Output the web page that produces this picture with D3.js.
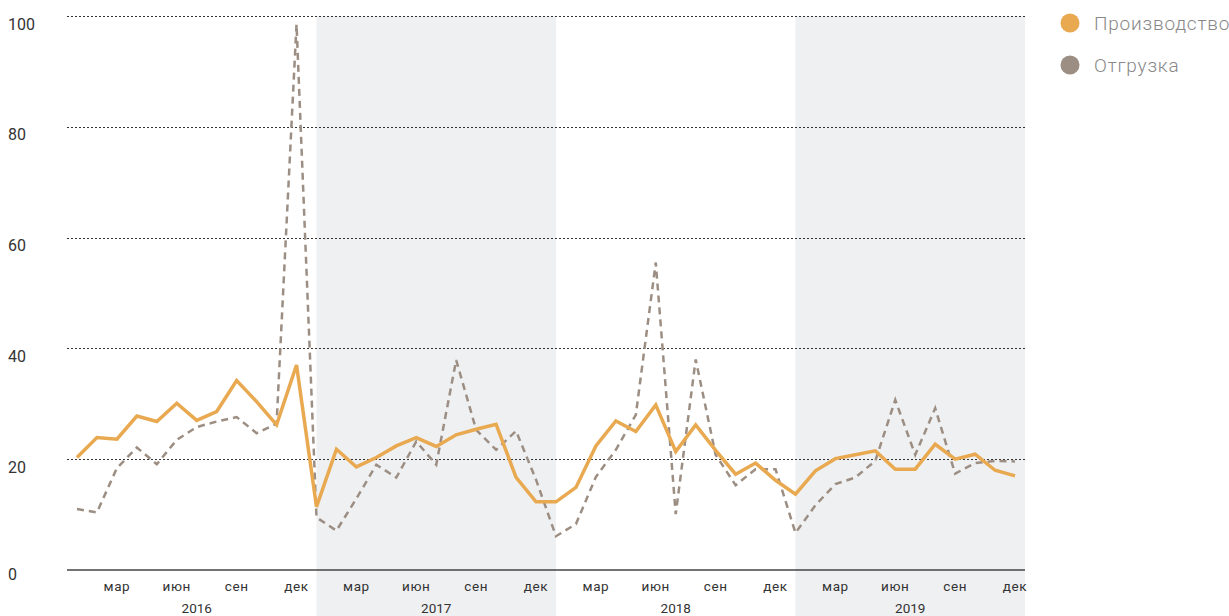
<!DOCTYPE html>
<html>
<head>
<meta charset="utf-8">
<script src="https://cdn.jsdelivr.net/npm/d3@7"></script>
<style>
  body { margin: 0; background: #fff; }
  svg { display: block; font-family: Roboto, "Open Sans", sans-serif; }
</style>
</head>
<body>
<div id="chart"></div>
<script>
// monthly series, Jan 2016 .. Dec 2019
var years = [2016, 2017, 2018, 2019];
var monthTicks = ['мар', 'июн', 'сен', 'дек'];  // shown at month index 2, 5, 8, 11
var yTicks = [0, 20, 40, 60, 80, 100];
var seriesNames = ['Производство', 'Отгрузка'];

var production = [
	20.3, 23.9, 23.6, 27.8, 26.8, 30.1, 27.0, 28.6, 34.2, 30.4, 26.2, 37.0,
	11.4, 21.8, 18.6, 20.3, 22.4, 23.9, 22.3, 24.4, 25.4, 26.3, 16.7, 12.3,
	12.3, 14.9, 22.4, 26.9, 25.0, 29.8, 21.4, 26.2, 21.6, 17.3, 19.3, 16.2,
	13.7, 17.9, 20.1, 20.8, 21.5, 18.2, 18.2, 22.7, 20.0, 20.9, 18.0, 17.0
];
var shipment = [
	11.0, 10.4, 18.4, 22.1, 19.1, 23.5, 25.8, 26.8, 27.6, 24.7, 26.4, 98.5,
	9.5, 7.1, 12.9, 19.0, 16.7, 23.2, 19.0, 37.9, 25.3, 21.7, 25.1, 16.3,
	6.1, 8.3, 16.8, 21.7, 28.0, 55.5, 10.1, 38.0, 20.8, 15.3, 18.2, 18.2,
	6.7, 11.7, 15.5, 16.7, 19.7, 30.7, 20.8, 29.2, 17.4, 19.3, 19.7, 19.6
];

var W = 1229, H = 616;
var m_left = 67, m_right = 1025, m_top = 16, m_bottom = 570;

var svg = d3.select('#chart').append('svg')
	.attr('width', W)
	.attr('height', H);

var x = d3.scaleLinear()
	.domain([-0.5, production.length - 0.5])
	.range([m_left, m_right]);

var y = d3.scaleLinear()
	.domain([0, 100])
	.range([m_bottom, m_top]);

// shaded years (2017, 2019)
years.forEach(function (yr, i) {
	if (i % 2 == 1) {
		var x0 = x(i * 12), x1 = Math.min(x(i * 12 + 12), m_right);
		svg.append('rect')
			.attr('x', x0)
			.attr('y', m_top)
			.attr('width', x1 - x0)
			.attr('height', H - m_top)
			.attr('fill', '#eff0f2');
	}
});

// dotted grid
svg.append('g')
	.selectAll('line')
	.data(yTicks.filter(function (d) { return d > 0; }))
	.enter().append('line')
	.attr('x1', m_left)
	.attr('x2', m_right)
	.attr('y1', function (d) { return Math.round(y(d)) + 0.5; })
	.attr('y2', function (d) { return Math.round(y(d)) + 0.5; })
	.attr('stroke', '#333')
	.attr('stroke-width', 1)
	.attr('stroke-dasharray', '2,2');

// y labels
svg.append('g')
	.selectAll('text')
	.data(yTicks)
	.enter().append('text')
	.attr('x', 8)
	.attr('y', function (d) { return y(d) + (d == 0 ? 4 : 8); })
	.attr('dy', '0.35em')
	.attr('font-size', 16)
	.attr('fill', '#333')
	.text(function (d) { return d; });

// baseline
svg.append('line')
	.attr('x1', m_left)
	.attr('x2', m_right)
	.attr('y1', m_bottom)
	.attr('y2', m_bottom)
	.attr('stroke', '#444')
	.attr('stroke-width', 1.5);

// month labels
var mTicks = [];
years.forEach(function (yr, i) {
	monthTicks.forEach(function (m, j) {
		mTicks.push({ idx: i * 12 + j * 3 + 2, label: m });
	});
});
svg.append('g')
	.selectAll('text')
	.data(mTicks)
	.enter().append('text')
	.attr('x', function (d) { return x(d.idx); })
	.attr('y', 591)
	.attr('text-anchor', 'middle')
	.attr('font-size', 13.5)
	.attr('letter-spacing', 0.6)
	.attr('fill', '#333')
	.text(function (d) { return d.label; });

// year labels
svg.append('g')
	.selectAll('text')
	.data(years)
	.enter().append('text')
	.attr('x', function (d, i) {
		var x0 = Math.max(x(i * 12), m_left), x1 = Math.min(x(i * 12 + 12), m_right);
		return (x0 + x1) / 2;
	})
	.attr('y', 613)
	.attr('text-anchor', 'middle')
	.attr('font-size', 13.5)
	.attr('fill', '#333')
	.text(function (d) { return d; });

var line = d3.line()
	.x(function (d, i) { return x(i); })
	.y(function (d) { return y(d); });

svg.append('path')
	.attr('d', line(shipment))
	.attr('fill', 'none')
	.attr('stroke', '#9c8e83')
	.attr('stroke-width', 2.5)
	.attr('stroke-dasharray', '7,5');

svg.append('path')
	.attr('d', line(production))
	.attr('fill', 'none')
	.attr('stroke', '#e8a951')
	.attr('stroke-width', 3.5)
	.attr('stroke-linejoin', 'miter');

// legend
var legendColors = ['#e8a951', '#9c8e83'];
var legend = svg.append('g')
	.selectAll('g')
	.data(seriesNames)
	.enter().append('g')
	.attr('transform', function (d, i) { return 'translate(1070,' + (23 + i * 42) + ')'; });
legend.append('circle')
	.attr('r', 9.5)
	.attr('fill', function (d, i) { return legendColors[i]; });
legend.append('text')
	.attr('x', 24)
	.attr('dy', '0.35em')
	.attr('font-size', 19)
	.attr('font-weight', 300)
	.attr('letter-spacing', 0.8)
	.attr('fill', '#888')
	.text(function (d) { return d; });
</script>
</body>
</html>
